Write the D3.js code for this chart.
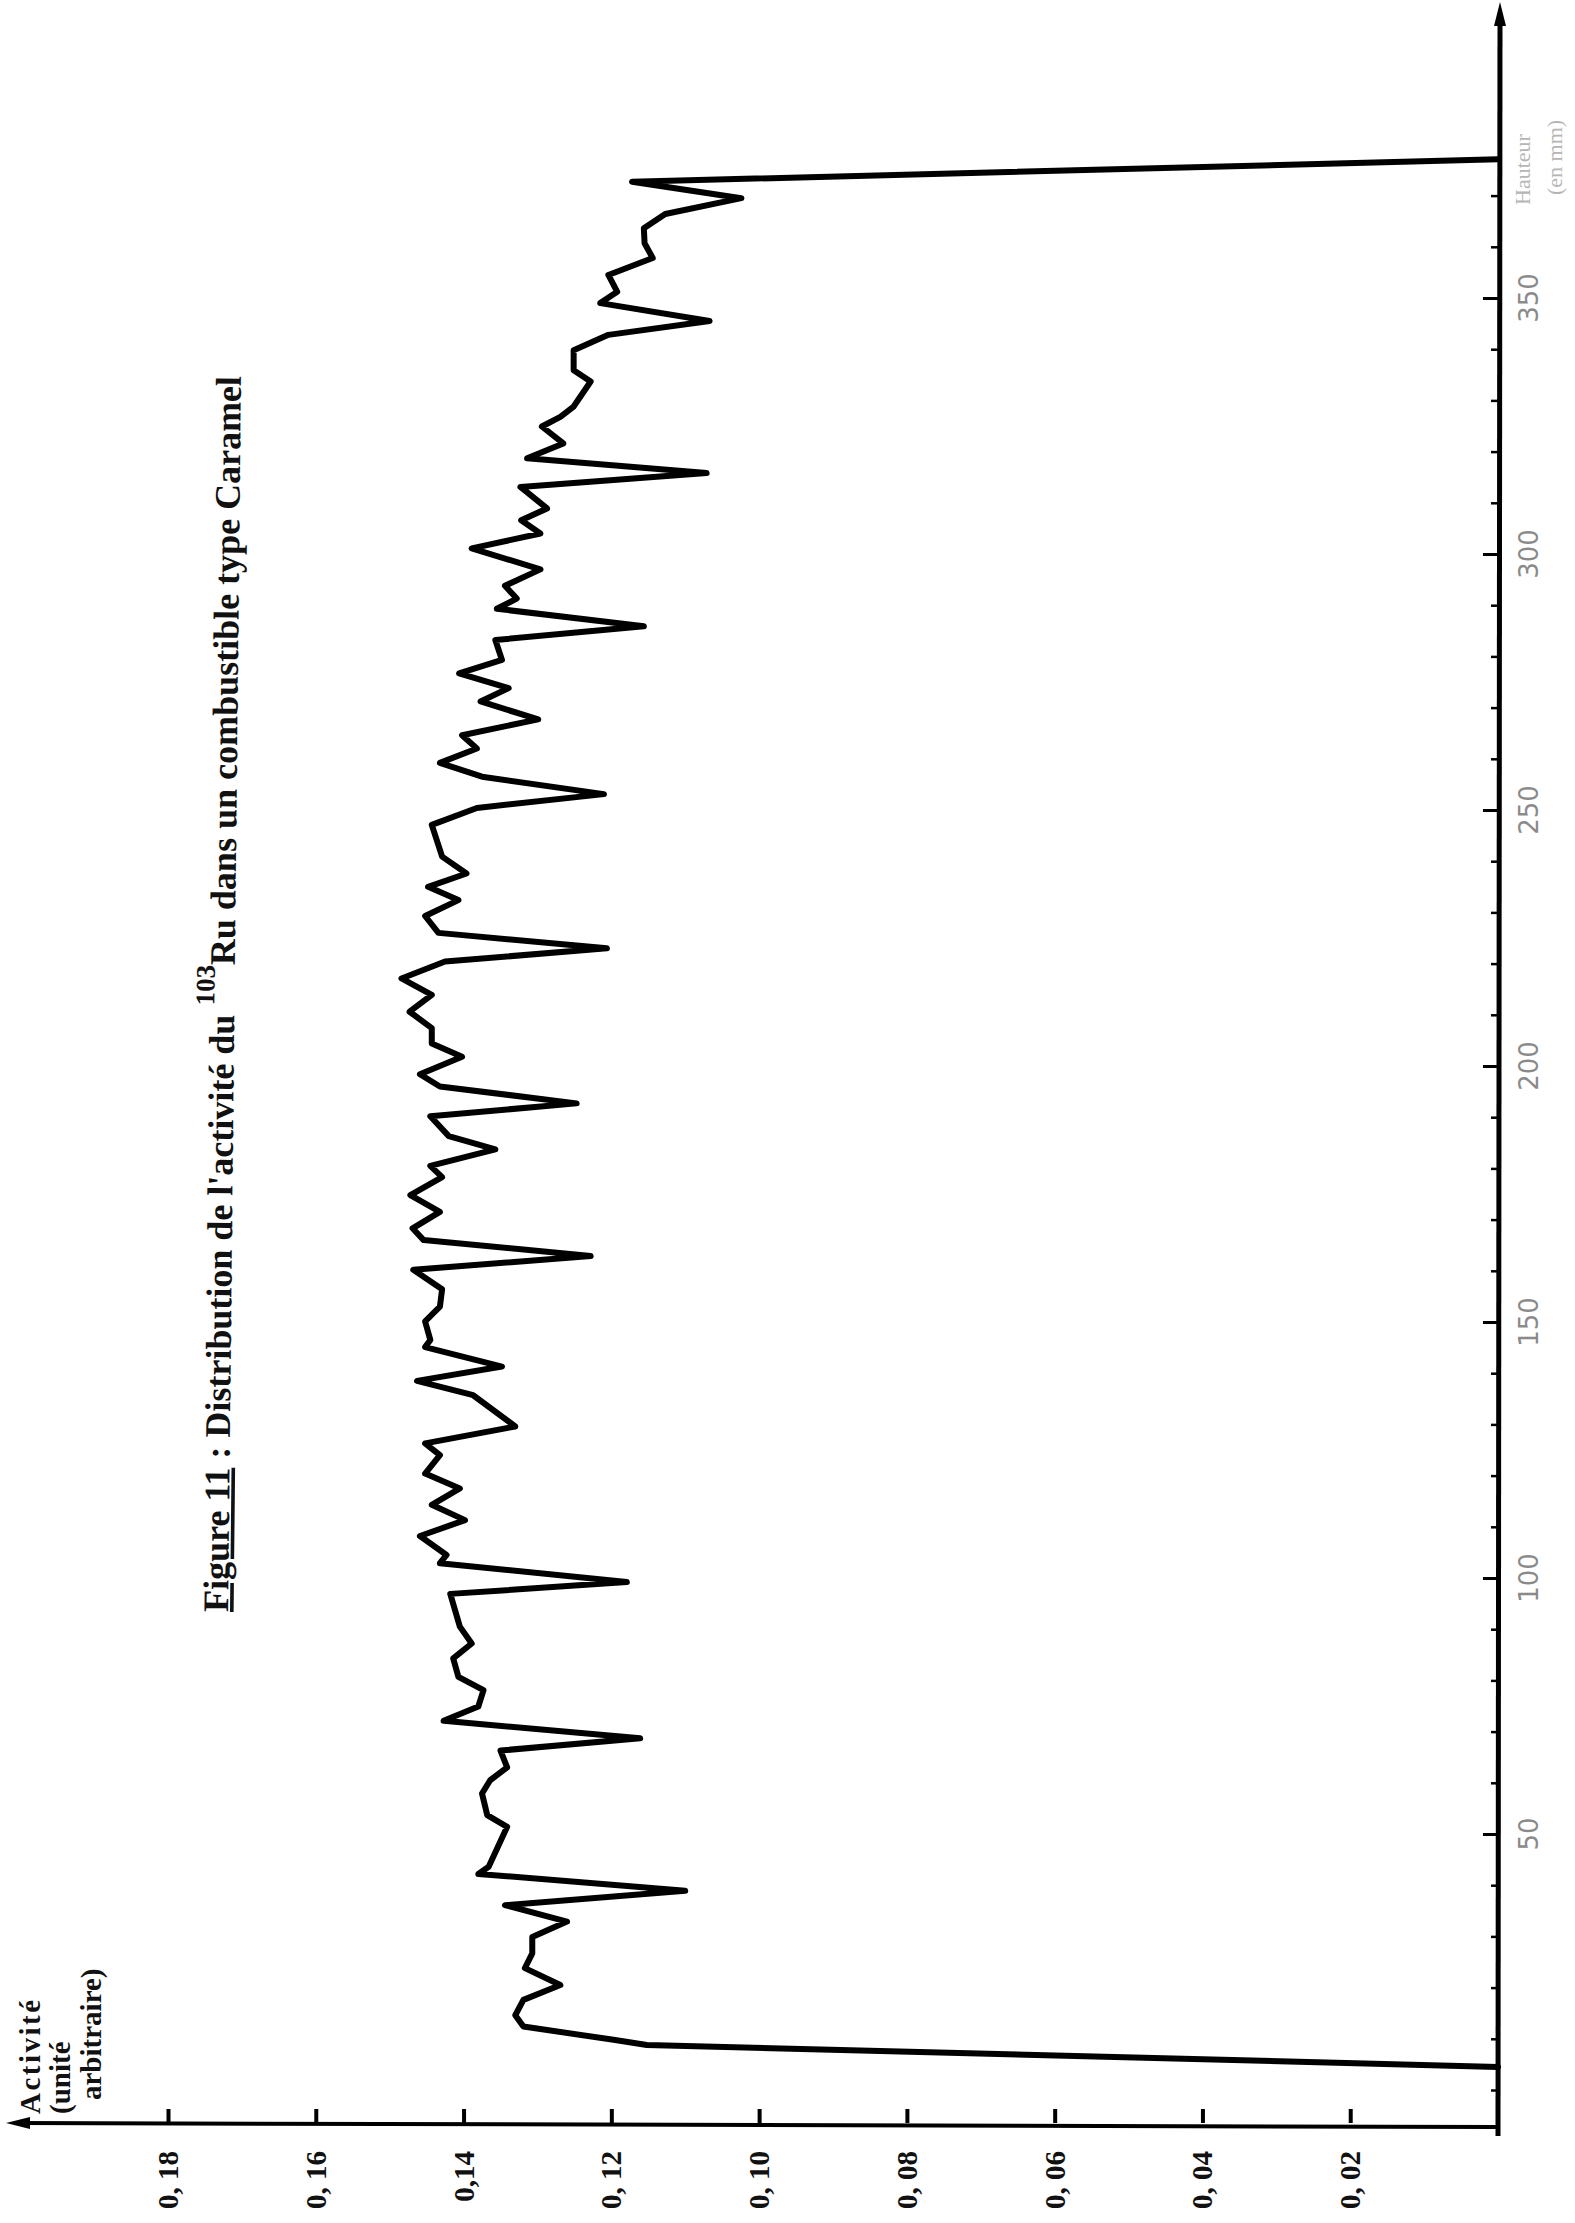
<!DOCTYPE html>
<html>
<head>
<meta charset="utf-8">
<script src="https://cdn.jsdelivr.net/npm/d3@7"></script>
<style>
  html, body { margin: 0; padding: 0; background: #fff; }
  svg { display: block; }
</style>
</head>
<body>
<div id="chart"></div>
<script>
// position along the rod (mm), read from bottom to top
const positionMm = [
  4.5, 8.8, 9.8, 12.4, 14.6, 17.6, 20.5, 23.8, 26.7, 29.9,
  32.9, 36.1, 38.9, 42.2, 43.6, 51.4, 53.7, 57.9, 60.5, 63.0,
  66.3, 68.7, 72.1, 74.9, 78.1, 80.7, 84.3, 87.2, 90.5, 96.9,
  99.2, 102.9, 104.5, 108.2, 111.3, 114.3, 117.5, 120.4, 124.0, 126.3,
  129.6, 135.7, 138.5, 141.3, 145.1, 146.5, 150.1, 153.0, 156.4, 160.2,
  162.9, 166.0, 168.3, 171.5, 174.8, 178.3, 180.5, 183.7, 186.3, 190.2,
  192.7, 196.0, 198.4, 201.8, 204.4, 207.4, 210.6, 213.9, 217.1, 220.4,
  223.0, 226.0, 229.3, 232.4, 235.0, 237.6, 240.9, 247.1, 250.4, 253.1,
  256.5, 259.2, 262.0, 264.6, 267.7, 271.2, 273.8, 276.7, 279.3, 283.2,
  285.9, 289.3, 291.3, 293.8, 297.0, 301.1, 304.0, 306.6, 308.9, 313.1,
  315.8, 318.7, 321.6, 324.9, 326.8, 328.8, 333.7, 335.9, 339.8, 342.8,
  345.5, 349.0, 351.2, 354.5, 357.8, 360.7, 363.6, 366.4, 369.5, 372.7,
  377.1
];

// 103Ru activity (arbitrary unit)
const activity = [
  0, 0.1152, 0.1197, 0.1319, 0.1330, 0.1319, 0.1269, 0.1317, 0.1307, 0.1307,
  0.1260, 0.1344, 0.1100, 0.1380, 0.1366, 0.1341, 0.1368, 0.1375, 0.1364, 0.1341,
  0.1350, 0.1161, 0.1427, 0.1380, 0.1373, 0.1407, 0.1414, 0.1389, 0.1405, 0.1418,
  0.1179, 0.1432, 0.1423, 0.1459, 0.1398, 0.1443, 0.1405, 0.1452, 0.1432, 0.1452,
  0.1330, 0.1387, 0.1463, 0.1348, 0.1452, 0.1445, 0.1452, 0.1432, 0.1429, 0.1468,
  0.1228, 0.1454, 0.1469, 0.1432, 0.1472, 0.1429, 0.1445, 0.1357, 0.1420, 0.1445,
  0.1247, 0.1432, 0.1459, 0.1402, 0.1443, 0.1443, 0.1473, 0.1443, 0.1484, 0.1425,
  0.1206, 0.1434, 0.1452, 0.1407, 0.1448, 0.1396, 0.1429, 0.1443, 0.1382, 0.1210,
  0.1375, 0.1432, 0.1382, 0.1402, 0.1299, 0.1377, 0.1339, 0.1406, 0.1348, 0.1357,
  0.1156, 0.1355, 0.1328, 0.1344, 0.1296, 0.1389, 0.1296, 0.1322, 0.1287, 0.1323,
  0.1071, 0.1314, 0.1265, 0.1294, 0.1269, 0.1251, 0.1228, 0.1251, 0.1251, 0.1204,
  0.1067, 0.1215, 0.1192, 0.1204, 0.1144, 0.1155, 0.1156, 0.1127, 0.1024, 0.1172,
  0
];

const activityTicks = [0.18, 0.16, 0.14, 0.12, 0.10, 0.08, 0.06, 0.04, 0.02];
const activityTickLabels = ["0, 18", "0, 16", "0,14", "0, 12", "0, 10", "0, 08", "0, 06", "0, 04", "0, 02"];
const positionTicks = [50, 100, 150, 200, 250, 300, 350];
const positionTickLabels = ["50", "100", "150", "200", "250", "300", "350"];
const positionMinorTicks = [0, 10, 20, 30, 40, 60, 70, 80, 90, 110, 120, 130, 140, 160, 170, 180, 190,
  210, 220, 230, 240, 260, 270, 280, 290, 310, 320, 330, 340, 360, 370];

const W = 1575, H = 2223;
const axisX = 1498;   // vertical axis = activity 0
const axisY = 2123;   // horizontal axis

const svg = d3.select("#chart").append("svg")
  .attr("width", W).attr("height", H)
  .attr("font-family", "'Liberation Serif', 'DejaVu Serif', serif");

// page is turned: activity runs right->left, position bottom->top
const x = d3.scaleLinear().domain([0, 0.18]).range([axisX, 168]);
const y = d3.scaleLinear().domain([0, 350]).range([2090, 298]);

// axes lines
svg.append("line")
  .attr("x1", 18).attr("y1", axisY).attr("x2", axisX).attr("y2", axisY + 4)
  .attr("stroke", "#000").attr("stroke-width", 4);
svg.append("line")
  .attr("x1", axisX + 2).attr("y1", 14).attr("x2", axisX).attr("y2", 2136)
  .attr("stroke", "#000").attr("stroke-width", 5);

// arrow heads
svg.append("path")
  .attr("d", `M${axisX + 2},2 L${axisX - 4},26 L${axisX + 8},26 Z`)
  .attr("fill", "#000");
svg.append("path")
  .attr("d", `M6,${axisY} L30,${axisY - 6} L30,${axisY + 6} Z`)
  .attr("fill", "#000");

// activity ticks (pointing up from the bottom axis)
const gx = svg.append("g")
  .attr("transform", `translate(0,${axisY})`)
  .call(d3.axisTop(x).tickValues(activityTicks).tickSize(14).tickFormat(""));
gx.select(".domain").remove();
gx.selectAll(".tick line").attr("stroke", "#000").attr("stroke-width", 4);

svg.append("g").selectAll("text")
  .data(activityTicks)
  .join("text")
  .attr("transform", d => `translate(${x(d) + 10},${axisY + 28}) rotate(-90)`)
  .attr("text-anchor", "end")
  .attr("font-size", 29)
  .attr("font-weight", "bold")
  .attr("fill", "#111")
  .text((d, i) => activityTickLabels[i]);

// position ticks (pointing left from the right axis)
const gyMajor = svg.append("g")
  .attr("transform", `translate(${axisX},0)`)
  .call(d3.axisLeft(y).tickValues(positionTicks).tickSize(15).tickFormat(""));
gyMajor.select(".domain").remove();
gyMajor.selectAll(".tick line").attr("stroke", "#000").attr("stroke-width", 3);

const gyMinor = svg.append("g")
  .attr("transform", `translate(${axisX},0)`)
  .call(d3.axisLeft(y).tickValues(positionMinorTicks).tickSize(7).tickFormat(""));
gyMinor.select(".domain").remove();
gyMinor.selectAll(".tick line").attr("stroke", "#000").attr("stroke-width", 2.5);

svg.append("g").selectAll("text")
  .data(positionTicks)
  .join("text")
  .attr("transform", d => `translate(${axisX + 40},${y(d)}) rotate(-90)`)
  .attr("text-anchor", "middle")
  .attr("font-family", "'DejaVu Sans', sans-serif")
  .attr("font-size", 26)
  .attr("fill", "#8a8a8a")
  .text((d, i) => positionTickLabels[i]);

// faint axis unit at top right
const unit = svg.append("text")
  .attr("transform", `translate(1530,205) rotate(-90)`)
  .attr("font-size", 22)
  .attr("fill", "#b5b5b5");
unit.append("tspan").attr("x", 0).attr("dy", 0).text("Hauteur");
unit.append("tspan").attr("x", 10).attr("dy", 32).text("(en mm)");

// curve
const points = positionMm.map((p, i) => ({ p, a: activity[i] }));
const line = d3.line()
  .x(d => x(d.a))
  .y(d => y(d.p));
svg.append("path")
  .datum(points)
  .attr("d", line)
  .attr("fill", "none")
  .attr("stroke", "#000")
  .attr("stroke-width", 6)
  .attr("stroke-linejoin", "round")
  .attr("stroke-linecap", "round");

// y label (top-left of the turned page)
[["Activité", 40, 2114, 2.5], ["(unité", 70, 2114, 0], ["arbitraire)", 101, 2100, 0]].forEach(([t, bx, by, ls]) => {
  svg.append("text")
    .attr("transform", `translate(${bx},${by}) rotate(-90)`)
    .attr("font-size", 29)
    .attr("font-weight", "bold")
    .attr("letter-spacing", ls)
    .attr("fill", "#111")
    .text(t);
});

// title
const title = svg.append("text")
  .attr("transform", "translate(228,1612) rotate(-89.4)")
  .attr("font-size", 36)
  .attr("font-weight", "bold")
  .attr("fill", "#111");
title.append("tspan").attr("text-decoration", "underline").text("Figure 11");
title.append("tspan").text(" : Distribution de l'activité du ");
title.append("tspan").attr("font-size", 27).attr("dy", -20).text("103");
title.append("tspan").attr("dy", 20).text("Ru dans un combustible type Caramel");
</script>
</body>
</html>
